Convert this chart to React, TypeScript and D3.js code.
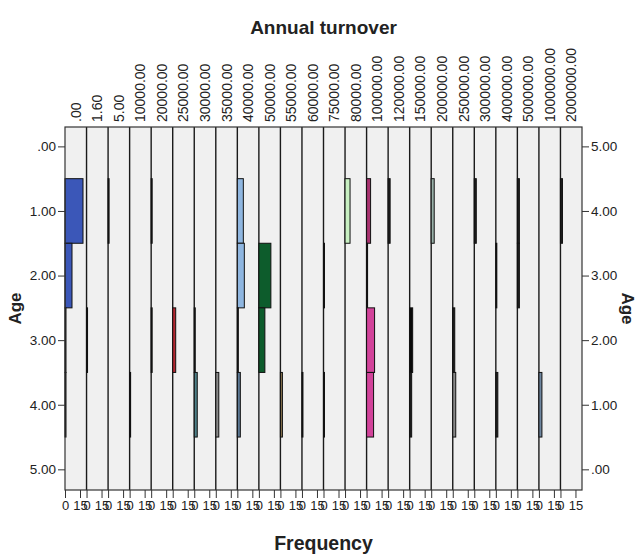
import React, { useEffect, useRef } from 'react';
import * as d3 from 'd3';

// Annual turnover categories (one panel each)
const turnover = [
  '.00', '1.60', '5.00', '10000.00', '20000.00', '25000.00', '30000.00', '35000.00',
  '40000.00', '50000.00', '55000.00', '60000.00', '75000.00', '80000.00', '100000.00',
  '120000.00', '150000.00', '200000.00', '250000.00', '300000.00', '400000.00',
  '500000.00', '1000000.00', '2000000.00'
];
const ages = [1, 2, 3, 4];
// frequency per turnover category, one array per age group
const freqAge1 = [18, 0, 1, 0, 1, 0, 0, 0, 6, 0, 0, 0, 0, 5, 4, 2, 0, 3, 0, 2, 0, 2, 0, 2];
const freqAge2 = [7, 0, 0, 0, 0, 0, 0, 0, 7, 12, 0, 0, 1, 0, 1, 0, 0, 0, 0, 0, 1, 2, 0, 0];
const freqAge3 = [1, 1, 0, 0, 1, 3, 1, 0, 1, 6, 0, 0, 0, 0, 8, 0, 3, 0, 2, 0, 0, 0, 0, 0];
const freqAge4 = [1, 0, 0, 1, 0, 0, 3, 3, 3, 0, 2, 1, 1, 0, 7, 0, 2, 0, 3, 0, 2, 0, 3, 0];
const yTicks = [0, 1, 2, 3, 4, 5];
const freqTicks = [0, 15];

// bar fills (SPSS colours each cell separately)
const D = '#1e1e1e';
const colAge1 = ['#3b57b8', D, D, D, D, D, D, D, '#8fb6e0', D, D, D, D, '#c8f0c2', '#a8326f', D, D, '#98b0a8', D, D, D, D, D, D];
const colAge2 = ['#3b57b8', D, D, D, D, D, D, D, '#8fb6e0', '#0d5c2c', D, D, D, D, '#7a2550', D, D, D, D, D, '#333', D, D, D];
const colAge3 = [D, '#1f3a22', D, D, '#6e6a3e', '#b3252f', '#1a2a22', D, D, '#0d5c2c', D, D, D, D, '#d2439a', D, '#0a0a0a', D, D, D, D, D, D, D];
const colAge4 = [D, D, D, '#4b2c56', D, D, '#4e8088', '#8a8a8a', '#5c7894', D, '#8b7550', D, D, D, '#d2439a', D, D, D, '#888', D, D, D, '#6e86a0', D];

const FONT = '"Liberation Sans", Arial, sans-serif';

export default function App() {
  const svgRef = useRef<SVGSVGElement>(null);

  useEffect(() => {
    const W = 638, H = 554;
    const left = 65, right = 582, top = 127, bottom = 490;
    const svg = d3.select(svgRef.current).attr('width', W).attr('height', H).html('');

    const panel = d3.scaleBand<string>().domain(turnover).range([left, right]).paddingInner(0);
    const bw = panel.bandwidth();
    const fx = d3.scaleLinear().domain([0, bw]).range([0, bw]);
    const y = d3.scaleLinear().domain([-0.3, 5.32]).range([top, bottom]);
    const yRight = d3.scaleLinear().domain([5, 0]).range([y(0), y(5)]);

    // panel backgrounds
    svg.append('g').selectAll('rect').data(turnover).enter().append('rect')
      .attr('x', d => panel(d)!).attr('y', top)
      .attr('width', bw).attr('height', bottom - top)
      .attr('fill', '#f0f0f0');

    // bars
    const freqs = [freqAge1, freqAge2, freqAge3, freqAge4];
    const cols = [colAge1, colAge2, colAge3, colAge4];
    const cells: { cat: string; age: number; v: number; c: string }[] = [];
    ages.forEach((a, ai) => {
      turnover.forEach((t, ti) => {
        if (freqs[ai][ti] > 0) cells.push({ cat: t, age: a, v: freqs[ai][ti], c: cols[ai][ti] });
      });
    });

    // panel zero lines
    svg.append('g').selectAll('line').data(turnover.slice(1)).enter().append('line')
      .attr('x1', d => panel(d)!).attr('x2', d => panel(d)!)
      .attr('y1', top).attr('y2', bottom)
      .attr('stroke', '#1a1a1a').attr('stroke-width', 1.4);

    svg.append('g').selectAll('rect').data(cells).enter().append('rect')
      .attr('x', d => panel(d.cat)! + fx(0))
      .attr('y', d => y(d.age - 0.5))
      .attr('width', d => fx(d.v))
      .attr('height', d => y(d.age + 0.5) - y(d.age - 0.5))
      .attr('fill', d => d.c)
      .attr('stroke', '#111').attr('stroke-width', 1);

    // frame
    svg.append('rect').attr('x', left).attr('y', top)
      .attr('width', right - left).attr('height', bottom - top)
      .attr('fill', 'none').attr('stroke', '#333').attr('stroke-width', 1.2);

    const fmt = (d: d3.NumberValue) => d3.format('.2f')(d as number).replace(/^0/, '');

    // left axis
    const yl = svg.append('g').attr('transform', `translate(${left},0)`)
      .call(d3.axisLeft(y).tickValues(yTicks).tickSize(7).tickPadding(2).tickFormat(fmt));
    yl.select('.domain').remove();
    yl.selectAll('line').attr('stroke', '#333');
    yl.selectAll('text').attr('font-family', FONT).attr('font-size', 13.5).attr('fill', '#222');

    // right axis
    const yr = svg.append('g').attr('transform', `translate(${right},0)`)
      .call(d3.axisRight(yRight).tickValues(yTicks).tickSize(7).tickPadding(2).tickFormat(fmt));
    yr.select('.domain').remove();
    yr.selectAll('line').attr('stroke', '#333');
    yr.selectAll('text').attr('font-family', FONT).attr('font-size', 13.5).attr('fill', '#222');

    // bottom frequency axes, one per panel
    turnover.forEach(t => {
      const sx = d3.scaleLinear().domain([0, bw]).range([panel(t)!, panel(t)! + bw]);
      const g = svg.append('g').attr('transform', `translate(0,${bottom})`)
        .call(d3.axisBottom(sx).tickValues(freqTicks).tickSize(8).tickPadding(3).tickFormat(d3.format('d')));
      g.select('.domain').remove();
      g.selectAll('line').attr('stroke', '#333');
      g.selectAll('text').attr('font-family', FONT).attr('font-size', 13).attr('fill', '#222');
    });

    // top category labels
    svg.append('g').selectAll('text').data(turnover).enter().append('text')
      .attr('transform', d => `translate(${panel(d)! + bw / 2 + 5},${top - 5}) rotate(-90)`)
      .attr('font-family', FONT).attr('font-size', 14).attr('fill', '#222')
      .text(d => d);

    // titles
    svg.append('text').attr('x', (left + right) / 2).attr('y', 34)
      .attr('text-anchor', 'middle').attr('font-family', FONT)
      .attr('font-size', 19).attr('font-weight', 'bold').attr('fill', '#222')
      .text('Annual turnover');
    svg.append('text').attr('x', (left + right) / 2).attr('y', 550)
      .attr('text-anchor', 'middle').attr('font-family', FONT)
      .attr('font-size', 19.5).attr('font-weight', 'bold').attr('fill', '#222')
      .text('Frequency');
    svg.append('text').attr('transform', `translate(21,${(top + bottom) / 2}) rotate(-90)`)
      .attr('text-anchor', 'middle').attr('font-family', FONT)
      .attr('font-size', 17).attr('font-weight', 'bold').attr('fill', '#222')
      .text('Age');
    svg.append('text').attr('transform', `translate(622,${(top + bottom) / 2}) rotate(90)`)
      .attr('text-anchor', 'middle').attr('font-family', FONT)
      .attr('font-size', 17).attr('font-weight', 'bold').attr('fill', '#222')
      .text('Age');
  }, []);

  return <svg ref={svgRef} style={{ display: 'block', position: 'absolute', left: 0, top: 0 }} />;
}
